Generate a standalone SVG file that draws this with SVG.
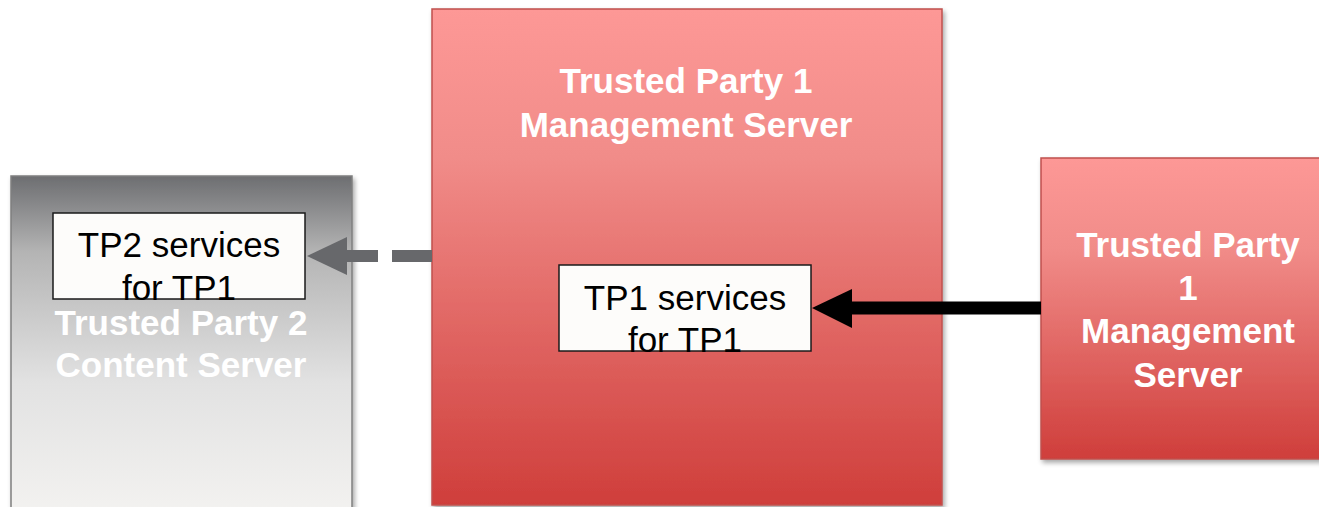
<svg xmlns="http://www.w3.org/2000/svg" width="1319" height="507" viewBox="0 0 1319 507">
<style>
.big{font-family:"Liberation Sans",Arial,sans-serif;font-weight:bold;font-size:35px;fill:#ffffff;text-anchor:middle}
.svc{font-family:"Liberation Sans",Arial,sans-serif;font-size:35px;fill:#000000;text-anchor:middle}
.wbox{fill:#fdfcfa;stroke:#1a1a1a;stroke-width:1.5}
.red{stroke:#c0504d;stroke-width:1.5}
</style>
<defs>
<linearGradient id="gGray" x1="0" y1="0" x2="0" y2="1">
<stop offset="0" stop-color="#6d6e71"/>
<stop offset="0.22" stop-color="#b4b4b4"/>
<stop offset="0.6" stop-color="#e2e2e2"/>
<stop offset="1" stop-color="#f4f3f1"/>
</linearGradient>
<linearGradient id="gRed" x1="0" y1="0" x2="0" y2="1">
<stop offset="0" stop-color="#fd9896"/>
<stop offset="0.3" stop-color="#f18c89"/>
<stop offset="1" stop-color="#cf3e3b"/>
</linearGradient>
<filter id="sh" x="-5%" y="-5%" width="115%" height="115%">
<feGaussianBlur in="SourceAlpha" stdDeviation="2.5"/>
<feOffset dx="2" dy="3" result="b"/>
<feComponentTransfer><feFuncA type="linear" slope="0.35"/></feComponentTransfer>
<feMerge><feMergeNode/><feMergeNode in="SourceGraphic"/></feMerge>
</filter>
</defs>
<g id="tp2-server">
<rect x="11" y="176" width="341" height="345" fill="url(#gGray)" stroke="#7f7f7f" stroke-width="1.5" filter="url(#sh)"/>
<text class="big" x="181" y="335">Trusted Party 2</text>
<text class="big" x="181" y="377">Content Server</text>
</g>
<g id="tp1-center">
<rect x="432" y="9" width="510" height="496" fill="url(#gRed)" class="red" filter="url(#sh)"/>
<text class="big" x="686" y="93">Trusted Party 1</text>
<text class="big" x="686" y="137">Management Server</text>
</g>
<g id="tp1-right">
<rect x="1041" y="158" width="290" height="301" fill="url(#gRed)" class="red" filter="url(#sh)"/>
<text class="big" x="1188" y="257">Trusted Party</text>
<text class="big" x="1188" y="300">1</text>
<text class="big" x="1188" y="343">Management</text>
<text class="big" x="1188" y="387">Server</text>
</g>
<g id="tp2-services">
<rect class="wbox" x="53" y="213" width="252" height="86"/>
<text class="svc" x="179" y="257">TP2 services</text>
<text class="svc" x="179" y="300">for TP1</text>
</g>
<g id="tp1-services">
<rect class="wbox" x="559" y="265" width="252" height="86"/>
<text class="svc" x="685" y="310">TP1 services</text>
<text class="svc" x="685" y="352">for TP1</text>
</g>
<g id="connectors">
<line x1="432" y1="256" x2="345" y2="256" stroke="#67686b" stroke-width="12" stroke-dasharray="40,14"/>
<polygon points="307,256 347,237 347,275" fill="#67686b"/>
<line x1="1041" y1="308" x2="850" y2="308" stroke="#000000" stroke-width="13"/>
<polygon points="812,308 852,289 852,328" fill="#000000"/>
</g>
</svg>
